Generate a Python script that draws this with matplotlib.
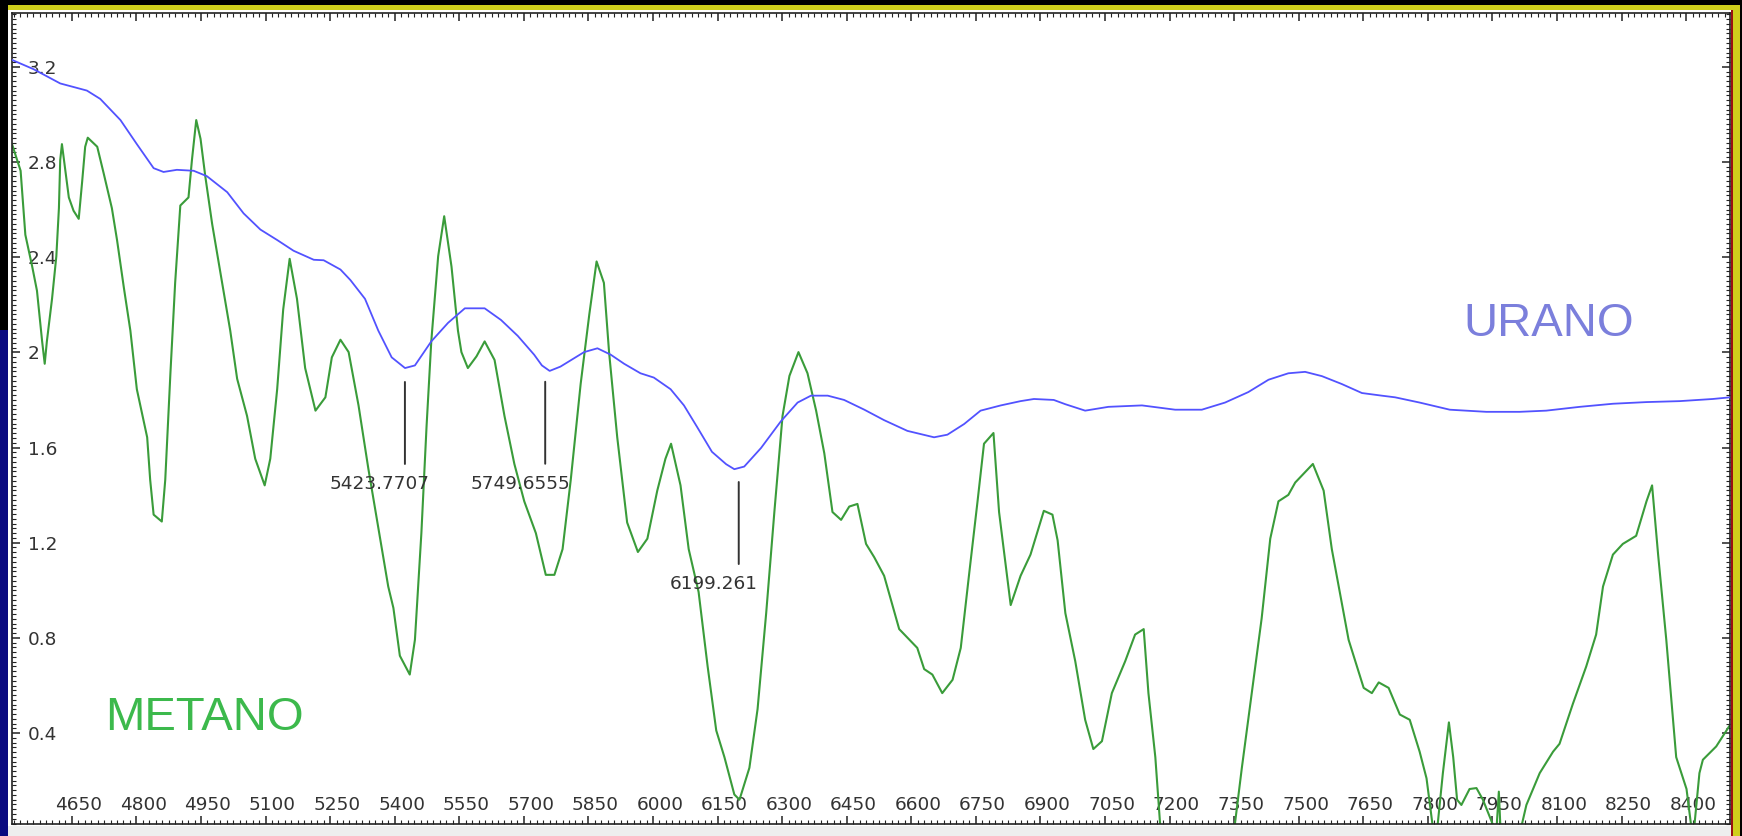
import numpy as np
import matplotlib
matplotlib.use("Agg")
import matplotlib.pyplot as plt
import matplotlib.transforms as mtransforms
from matplotlib.patches import Rectangle
from matplotlib.ticker import FixedLocator, FixedFormatter, MultipleLocator

# --- spectra -------------------------------------------------------------
urano_wl = [4511, 4561, 4623, 4685, 4716, 4763, 4801, 4840, 4863, 4894, 4933, 4964,
            5011, 5049, 5088, 5127, 5165, 5212, 5235, 5274, 5297, 5331, 5362, 5393,
            5424, 5447, 5485, 5524, 5563, 5609, 5647, 5686, 5724, 5742, 5760, 5785,
            5840, 5871, 5902, 5933, 5971, 6002, 6041, 6072, 6102, 6137, 6170, 6189,
            6212, 6251, 6297, 6336, 6367, 6406, 6444, 6491, 6537, 6591, 6653, 6684,
            6723, 6761, 6808, 6854, 6885, 6931, 6958, 7004, 7058, 7136, 7213, 7275,
            7329, 7383, 7430, 7476, 7515, 7554, 7600, 7647, 7693, 7724, 7781, 7851,
            7936, 8013, 8075, 8153, 8230, 8308, 8385, 8462, 8502]
urano_val = [3.229, 3.19, 3.13, 3.10, 3.065, 2.976, 2.875, 2.774, 2.758, 2.767, 2.763, 2.74,
             2.673, 2.584, 2.516, 2.472, 2.427, 2.389, 2.387, 2.348, 2.304, 2.225, 2.091, 1.979,
             1.934, 1.945, 2.046, 2.124, 2.185, 2.185, 2.136, 2.069, 1.99, 1.945, 1.922, 1.94,
             2.001, 2.017, 1.99, 1.952, 1.912, 1.894, 1.845, 1.777, 1.688, 1.582, 1.53, 1.509,
             1.52, 1.598, 1.71, 1.789, 1.818, 1.818, 1.80, 1.759, 1.715, 1.67, 1.643, 1.654,
             1.699, 1.755, 1.777, 1.795, 1.804, 1.80, 1.782, 1.755, 1.771, 1.777, 1.759, 1.759,
             1.789, 1.833, 1.885, 1.912, 1.918, 1.90, 1.867, 1.829, 1.818, 1.811, 1.789, 1.759,
             1.75, 1.75, 1.755, 1.771, 1.784, 1.791, 1.795, 1.804, 1.811]

metano_wl = [4511, 4531, 4542, 4558, 4569, 4581, 4587, 4592, 4604, 4614, 4620, 4623,
             4627, 4635, 4643, 4654, 4666, 4674, 4681, 4687, 4709, 4724, 4743, 4755,
             4771, 4786, 4801, 4825, 4832, 4840, 4859, 4867, 4879, 4890, 4902, 4921,
             4929, 4939, 4949, 4960, 4976, 4995, 5018, 5034, 5057, 5076, 5098, 5111,
             5127, 5141, 5156, 5173, 5192, 5216, 5239, 5254, 5274, 5293, 5316, 5339,
             5362, 5385, 5397, 5412, 5435, 5447, 5462, 5474, 5485, 5501, 5515, 5532,
             5547, 5555, 5570, 5590, 5609, 5632, 5655, 5678, 5701, 5728, 5751, 5771,
             5790, 5809, 5832, 5852, 5869, 5886, 5898, 5917, 5940, 5965, 5987, 6010,
             6029, 6042, 6064, 6083, 6106, 6127, 6147, 6166, 6189, 6201, 6224, 6243,
             6263, 6282, 6301, 6317, 6338, 6359, 6379, 6398, 6417, 6437, 6456, 6475,
             6495, 6514, 6537, 6572, 6614, 6630, 6649, 6672, 6696, 6715, 6734, 6754,
             6769, 6791, 6804, 6831, 6854, 6877, 6908, 6928, 6940, 6958, 6981, 7004,
             7023, 7043, 7066, 7097, 7120, 7140, 7151, 7167, 7178, 7210, 7260, 7320,
             7352, 7368, 7391, 7414, 7434, 7453, 7476, 7492, 7515, 7533, 7558, 7577,
             7593, 7616, 7651, 7670, 7686, 7709, 7735, 7758, 7781, 7797, 7812, 7822,
             7835, 7849, 7859, 7868, 7878, 7897, 7913, 7928, 7948, 7959, 7965, 7970,
             7990, 8019, 8029, 8060, 8091, 8106, 8137, 8168, 8191, 8207, 8230, 8253,
             8284, 8308, 8321, 8335, 8354, 8377, 8401, 8416, 8431, 8439, 8470, 8502]
metano_val = [2.875, 2.763, 2.494, 2.36, 2.259, 2.046, 1.952, 2.046, 2.225, 2.404, 2.606, 2.808,
              2.875, 2.763, 2.651, 2.595, 2.561, 2.718, 2.864, 2.902, 2.864, 2.752, 2.606, 2.472,
              2.27, 2.091, 1.845, 1.643, 1.464, 1.318, 1.289, 1.464, 1.912, 2.292, 2.617, 2.651,
              2.808, 2.976, 2.897, 2.74, 2.539, 2.337, 2.091, 1.889, 1.733, 1.553, 1.441, 1.553,
              1.845, 2.18, 2.393, 2.225, 1.934, 1.755, 1.811, 1.979, 2.053, 2.001, 1.777, 1.509,
              1.262, 1.016, 0.926, 0.725, 0.646, 0.792, 1.24, 1.688, 2.046, 2.404, 2.572, 2.36,
              2.091, 2.001, 1.934, 1.983, 2.046, 1.968, 1.733, 1.531, 1.374, 1.24, 1.065, 1.065,
              1.173, 1.464, 1.867, 2.158, 2.382, 2.292, 2.001, 1.643, 1.285, 1.161, 1.217, 1.419,
              1.553, 1.616, 1.441, 1.173, 0.993, 0.68, 0.411, 0.299, 0.142, 0.12, 0.254, 0.501,
              0.904, 1.329, 1.733, 1.901, 2.001, 1.912, 1.755, 1.576, 1.329, 1.296, 1.352, 1.363,
              1.195, 1.139, 1.061, 0.837, 0.758, 0.669, 0.646, 0.568, 0.624, 0.758, 1.061, 1.374,
              1.616, 1.661, 1.329, 0.938, 1.061, 1.15, 1.334, 1.318, 1.21, 0.904, 0.702, 0.456,
              0.333, 0.366, 0.568, 0.702, 0.814, 0.837, 0.568, 0.299, 0.02, -0.4, -0.7, -0.3,
              0.02, 0.254, 0.568, 0.882, 1.217, 1.374, 1.401, 1.453, 1.497, 1.531, 1.419, 1.173,
              1.016, 0.792, 0.59, 0.568, 0.613, 0.59, 0.478, 0.456, 0.322, 0.21, 0.0, 0.0,
              0.232, 0.445, 0.299, 0.12, 0.098, 0.165, 0.169, 0.12, 0.03, -0.02, 0.154, -0.05,
              -0.15, 0.02, 0.098, 0.232, 0.322, 0.355, 0.523, 0.68, 0.814, 1.016, 1.15, 1.195,
              1.229, 1.374, 1.441, 1.15, 0.792, 0.299, 0.165, -0.05, 0.232, 0.288, 0.344, 0.434]

xtick_values = list(range(4650, 8401, 150))
xtick_labels = [str(v) for v in xtick_values]
ytick_values = [0.4, 0.8, 1.2, 1.6, 2.0, 2.4, 2.8, 3.2]
ytick_labels = ["0.4", "0.8", "1.2", "1.6", "2", "2.4", "2.8", "3.2"]

band_positions = [5423.7707, 5749.6555, 6199.261]
band_labels = ["5423.7707", "5749.6555", "6199.261"]

# --- figure and window chrome -------------------------------------------
W, H = 1742, 836
DPI = 100
fig = plt.figure(figsize=(W / DPI, H / DPI), dpi=DPI)
fig.patch.set_facecolor("white")


def px_rect(x0, y0, x1, y1, color):
    """Rectangle in pixel units measured from the top-left corner."""
    fig.patches.append(Rectangle((x0 / W, 1 - y1 / H), (x1 - x0) / W, (y1 - y0) / H,
                                 transform=fig.transFigure, facecolor=color,
                                 edgecolor="none", zorder=-10))


px_rect(0, 0, W, 4.5, "black")
px_rect(8, 4.5, 1740, 9.5, "#cfcf1c")
px_rect(0, 0, 8, 330, "black")
px_rect(0, 330, 8, H, "#0a0a80")
px_rect(8, 826, 1731, H, "#eeeeee")
px_rect(1730.5, 9.5, 1733, H, "#9a1212")
px_rect(1733, 4.5, 1739.5, H, "#cfcf1c")
px_rect(1739.5, 0, W, H, "black")

# --- plot ----------------------------------------------------------------
ax = fig.add_axes([12 / W, (H - 824) / H, 1718 / W, 811 / H])
ax.set_facecolor("white")

ax.plot(urano_wl, urano_val, color="#5252ff", lw=1.3, zorder=3)
ax.plot(metano_wl, metano_val, color="#3a9c3a", lw=1.5, zorder=2)

ax.set_xlim(4511, 8502)
ax.set_ylim(0.018, 3.426)

for sp in ax.spines.values():
    sp.set_linewidth(1.2)
    sp.set_color("#222222")

ax.xaxis.set_major_locator(FixedLocator(xtick_values))
ax.xaxis.set_major_formatter(FixedFormatter(xtick_labels))
ax.xaxis.set_minor_locator(MultipleLocator(15))
ax.yaxis.set_major_locator(FixedLocator(ytick_values))
ax.yaxis.set_major_formatter(FixedFormatter(ytick_labels))
ax.yaxis.set_minor_locator(MultipleLocator(0.02))

ax.tick_params(which="both", direction="in", top=True, right=True, color="#222222")
ax.tick_params(which="major", length=5.8, width=1.1)
ax.tick_params(which="minor", length=2.6, width=0.8)
ax.tick_params(axis="y", which="major", pad=-11.5, labelsize=13.3, labelcolor="#333333")
ax.tick_params(axis="x", which="major", pad=-13.7, labelsize=13.3, labelcolor="#333333")

shift = mtransforms.ScaledTranslation(6.9 / DPI, 0, fig.dpi_scale_trans)
for tick in ax.xaxis.get_major_ticks(len(xtick_values)):
    tick.label1.set_verticalalignment("center")
    tick.label1.set_transform(tick.label1.get_transform() + shift)
for tick in ax.yaxis.get_major_ticks(len(ytick_values)):
    tick.label1.set_horizontalalignment("left")

# band markers under the Uranus minima
for pos, text in zip(band_positions, band_labels):
    yc = np.interp(pos, urano_wl, urano_val)
    ax.annotate("", xy=(pos, yc), xycoords="data",
                xytext=(0, -96 * 0.72), textcoords="offset points",
                arrowprops=dict(arrowstyle="-", color="#333333", lw=1.4,
                                shrinkA=0, shrinkB=14 * 0.72))
    ax.annotate(text, xy=(pos, yc), xycoords="data",
                xytext=(-25 * 0.72, -116 * 0.72), textcoords="offset points",
                ha="center", va="center", fontsize=13.3, color="#333333")

ax.text(0.8946, 0.6017, "URANO", transform=ax.transAxes, ha="center", va="baseline",
        fontsize=34, color="#7b7fdc", family=["Liberation Sans", "DejaVu Sans"])
ax.text(0.1118, 0.1159, "METANO", transform=ax.transAxes, ha="center", va="baseline",
        fontsize=34, color="#3cb94c", family=["Liberation Sans", "DejaVu Sans"])

fig.savefig("out.png", dpi=DPI, facecolor=fig.get_facecolor())
